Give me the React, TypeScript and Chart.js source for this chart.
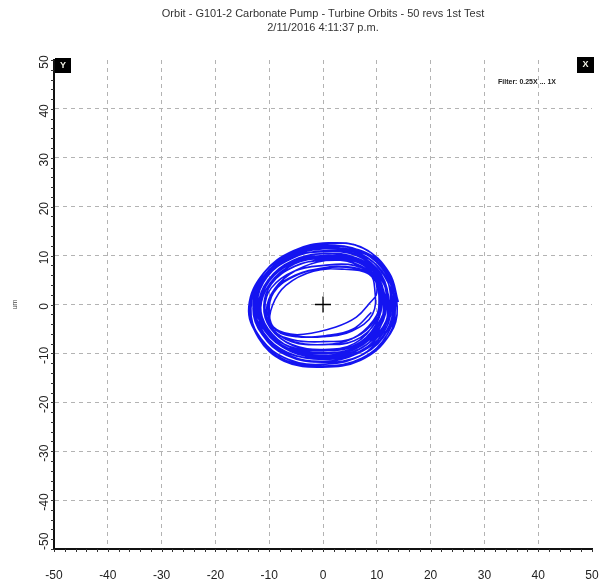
import React, { useEffect, useRef } from "react";
import { Chart, registerables } from "chart.js";

Chart.register(...registerables);

const titleLines = [
  "Orbit - G101-2 Carbonate Pump - Turbine Orbits - 50 revs 1st Test",
  "2/11/2016 4:11:37 p.m.",
];
const filterLabel = "Filter: 0.25X ... 1X";
const yAxisTitle = "um";
const xTicks = [-50, -40, -30, -20, -10, 0, 10, 20, 30, 40, 50];
const yTicks = [-50, -40, -30, -20, -10, 0, 10, 20, 30, 40, 50];

// orbit revolutions (x, y pairs in um)
const rev01 = [[14,0.5],[12.3,6.5],[7.5,11.5],[1,12.6],[-5.5,11],[-11,6.5],[-13.8,-0.5],[-12,-6.5],[-7,-11],[0,-12.6],[7.5,-11],[12.5,-6]];
const rev02 = [[13.5,1],[11.8,7],[7,11.8],[0.5,12.3],[-6,10.5],[-11.3,6],[-13.5,-1],[-11.5,-7],[-6.5,-11.2],[0.5,-12.2],[7.5,-10.2],[12.2,-5]];
const rev03 = [[13,0],[11.3,6],[6.8,10.5],[0.5,11.6],[-5.8,10],[-10.8,5.6],[-13,-0.8],[-11.2,-6.3],[-6.5,-10.3],[0,-11.6],[6.5,-10],[11.4,-5.5]];
const rev04 = [[12.6,1.2],[11,6.8],[6.5,10.5],[0,11.4],[-6,9.6],[-10.6,5.4],[-12.4,0],[-10.8,-5.4],[-6.2,-9.4],[0.3,-10.5],[6.6,-9.2],[11.2,-4.5]];
const rev05 = [[12,0.5],[10.5,5.8],[6.2,9.5],[0.4,10.4],[-5.6,9],[-10.2,5],[-12,-0.3],[-10.5,-5.5],[-6,-9.3],[0,-10.4],[6.2,-9],[10.6,-4.6]];
const rev06 = [[11.6,-0.5],[10.2,4.8],[6,8.4],[0,9.4],[-5.6,8.2],[-9.8,4.4],[-11.6,-0.8],[-10.2,-5.8],[-6,-9.6],[0,-10.8],[6,-9.6],[10.4,-5.2]];
const rev07 = [[11.2,0.6],[9.8,5.2],[5.8,8.4],[0.2,9.2],[-5.2,7.8],[-9.6,4.2],[-11,-0.6],[-9.6,-5],[-5.6,-8.4],[0,-9.4],[5.8,-8.4],[9.8,-4.2]];
const rev08 = [[10.6,1.5],[9.6,6],[6,8.8],[0.5,9],[-5,7],[-9,3.2],[-10.5,-1.2],[-9.2,-5.2],[-5.4,-7.6],[0,-8.2],[5.4,-7],[9.4,-3.2]];
const rev09 = [[13.8,-0.5],[12,5.8],[7.2,10.8],[0.8,12],[-5.8,10.6],[-11.2,6.2],[-13.6,0],[-12,-6.8],[-7.2,-11.6],[-0.2,-12.8],[7,-11.4],[12.2,-6.4]];
const rev10 = [[12.8,2],[11.4,7.6],[6.6,11.2],[0,11.8],[-6.4,10],[-11,5.2],[-12.8,-0.6],[-11,-6],[-6.4,-10],[0.4,-11],[7,-9.6],[11.6,-4]];
const rev11 = [[11.8,1],[10.4,6.4],[6.2,10],[0,10.8],[-5.8,9.6],[-10.4,5.6],[-12.2,0.4],[-10.8,-5],[-6.4,-9],[0,-10],[6.4,-8.8],[10.6,-4]];
const rev12 = [[12.4,-0.8],[11,4.8],[6.6,9],[0.6,10],[-5.4,8.8],[-10,4.8],[-12,-1.2],[-10.6,-6.6],[-6.2,-10.6],[0.2,-11.8],[6.8,-10.6],[11,-5.8]];
const rev13 = [[13.2,0.8],[11.6,6.8],[7,11],[0.6,12],[-6,10.2],[-11,5.8],[-13,-0.2],[-11.4,-6],[-6.8,-10.4],[0,-11.8],[7,-10.4],[11.8,-5.4]];
const rev14 = [[9.6,3.4],[8.6,6.2],[4,7.2],[-1.8,6.8],[-6.9,3.9],[-9.4,-0.2],[-9.7,-4],[-7.2,-5.8],[-3.6,-6.1],[2.4,-4.6],[6.2,-2.6],[8.6,0.2]];
const rev15 = [[12.2,0],[10.8,6.2],[6.4,10.2],[0.2,11],[-5.8,9.4],[-10.8,5.2],[-12.6,-0.6],[-11,-5.8],[-6.6,-9.8],[0.2,-11.2],[6.8,-9.8],[11.2,-5]];
const rev16 = [[11,1.8],[9.8,6.8],[6,9.6],[0.4,10],[-5.2,8.4],[-9.4,4.6],[-11,-0.2],[-9.8,-4.8],[-5.8,-8.2],[0,-9.2],[5.8,-8],[9.8,-3.4]];
const rev17 = [[10.4,1.8],[9.4,5.4],[5.6,7.4],[0,7.4],[-5.2,6],[-9,3],[-10.2,-1],[-9.2,-4.6],[-5.2,-6.4],[0,-6.6],[5.4,-5.4],[9.2,-2]];
const rev18 = [[11,1.2],[9.8,5.4],[6,8.4],[0.2,9],[-5.4,7.8],[-9.6,4.2],[-11,-0.4],[-9.8,-4.6],[-5.8,-7.6],[0,-8.2],[5.8,-7.4],[9.8,-3.6]];
const rev19 = [[10,2.4],[9.2,5.8],[5.4,7.6],[-0.4,7.4],[-5.6,5.6],[-9.2,2.4],[-10,-1.8],[-8.8,-5.2],[-4.8,-6.6],[0.4,-6.4],[5.6,-5],[9,-1.6]];
const rev20 = [[11.6,0.4],[10.2,5.2],[6.2,8.8],[0.2,9.6],[-5.8,8.4],[-10.2,4.6],[-11.8,-0.4],[-10.4,-5.2],[-6.2,-8.6],[0,-9.4],[6.2,-8.4],[10.4,-4.2]];
const rev21 = [[12.8,1.6],[11.4,7.2],[6.8,10.8],[0.4,11.4],[-6,9.8],[-10.8,5.2],[-12.8,-0.4],[-11.2,-5.8],[-6.8,-9.8],[0,-11],[6.8,-9.6],[11.4,-4.6]];
const rev22 = [[11.4,1.4],[10,6],[6,9.2],[0.2,9.8],[-5.6,8.6],[-10,4.8],[-11.6,-0.2],[-10.2,-5],[-6,-8.8],[0,-9.8],[6,-8.8],[10.2,-4]];
const rev23 = [[13.4,-0.2],[11.8,5.6],[7,10.2],[0.6,11.4],[-6,10],[-11.2,5.6],[-13.4,-0.8],[-11.8,-6.8],[-7,-11.4],[0,-12.6],[7.2,-11],[12,-6]];
const rev24 = [[10.8,1],[9.8,5.6],[5.8,8],[0.2,8],[-5.4,6.8],[-9.6,3.4],[-10.8,-0.8],[-9.6,-5],[-5.6,-7.2],[0,-7.6],[5.8,-6.8],[9.6,-3.2]];

const revolutions = [
  rev01, rev09, rev23, rev02, rev13, rev03, rev21, rev10, rev04, rev15, rev12, rev05,
  rev11, rev06, rev22, rev20, rev07, rev16, rev18, rev08, rev24, rev17, rev14, rev19,
];

const FONT = '"Liberation Sans", Arial, sans-serif';

const decorPlugin = {
  id: "decor",
  afterDatasetsDraw(chart: any) {
    const { ctx, scales } = chart;
    const cx = scales.x.getPixelForValue(0);
    const cy = scales.y.getPixelForValue(0);
    ctx.save();
    ctx.strokeStyle = "#000";
    ctx.lineWidth = 1.3;
    ctx.beginPath();
    ctx.moveTo(cx - 8, cy);
    ctx.lineTo(cx + 8, cy);
    ctx.moveTo(cx, cy - 8);
    ctx.lineTo(cx, cy + 8);
    ctx.stroke();
    ctx.restore();
  },
  afterDraw(chart: any) {
    const { ctx, chartArea, scales } = chart;
    const xs = scales.x;
    const ys = scales.y;
    ctx.save();
    // title
    ctx.fillStyle = "#333";
    ctx.font = `11px ${FONT}`;
    ctx.textAlign = "center";
    ctx.textBaseline = "middle";
    const mid = (chartArea.left + chartArea.right) / 2;
    ctx.fillText(titleLines[0], mid, 14);
    ctx.fillText(titleLines[1], mid, 28);

    // minor ticks
    ctx.strokeStyle = "#333";
    ctx.lineWidth = 1;
    ctx.beginPath();
    for (let v = -50; v <= 50; v += 2) {
      const px = Math.round(xs.getPixelForValue(v)) + 0.5;
      ctx.moveTo(px, chartArea.bottom);
      ctx.lineTo(px, chartArea.bottom + 3);
      const py = Math.round(ys.getPixelForValue(v)) + 0.5;
      ctx.moveTo(chartArea.left, py);
      ctx.lineTo(chartArea.left - 3, py);
    }
    ctx.stroke();

    // y tick labels, rotated
    ctx.fillStyle = "#222";
    ctx.font = `12px ${FONT}`;
    for (const v of yTicks) {
      const label = String(v);
      const w = ctx.measureText(label).width;
      let py = ys.getPixelForValue(v) + 2;
      py = Math.max(py, chartArea.top - 8 + w / 2);
      py = Math.min(py, chartArea.bottom + 1 - w / 2);
      ctx.save();
      ctx.translate(45, py);
      ctx.rotate(-Math.PI / 2);
      ctx.textAlign = "center";
      ctx.textBaseline = "middle";
      ctx.fillText(label, 0, 0);
      ctx.restore();
    }

    // y axis unit
    ctx.save();
    ctx.translate(15, ys.getPixelForValue(0));
    ctx.rotate(-Math.PI / 2);
    ctx.font = `7px ${FONT}`;
    ctx.fillStyle = "#444";
    ctx.textAlign = "center";
    ctx.textBaseline = "middle";
    ctx.fillText(yAxisTitle, 0, 0);
    ctx.restore();

    // Y / X boxes
    ctx.fillStyle = "#000";
    ctx.fillRect(chartArea.left + 1, chartArea.top - 2, 16, 15);
    ctx.fillRect(chartArea.right - 15, chartArea.top - 3, 17, 16);
    ctx.fillStyle = "#f4f4e8";
    ctx.font = `bold 9px ${FONT}`;
    ctx.textAlign = "center";
    ctx.textBaseline = "middle";
    ctx.fillText("Y", chartArea.left + 9, chartArea.top + 6);
    ctx.fillText("X", chartArea.right - 6.5, chartArea.top + 5);

    // filter text
    ctx.fillStyle = "#222";
    ctx.font = `bold 7px ${FONT}`;
    ctx.textAlign = "left";
    ctx.fillText(filterLabel, 498, 82);
    ctx.restore();
  },
};

export default function App() {
  const ref = useRef<HTMLCanvasElement | null>(null);
  useEffect(() => {
    document.body.style.margin = "0";
    const canvas = ref.current;
    if (!canvas) return;
    const points: { x: number; y: number }[] = [];
    for (const rev of revolutions) {
      for (const p of rev) points.push({ x: p[0], y: p[1] });
    }

    const gridColor = (c: any) =>
      c.tick && (c.tick.value === 50 || c.tick.value === -50) ? "rgba(0,0,0,0)" : "#b3b3b3";

    const chart = new Chart(canvas, {
      type: "scatter",
      data: {
        datasets: [
          {
            data: points,
            showLine: true,
            borderColor: "rgb(20,20,240)",
            borderWidth: 1.6,
            pointRadius: 0,
            tension: 0.4,
            fill: false,
          },
        ],
      },
      plugins: [decorPlugin],
      options: {
        responsive: false,
        animation: false,
        devicePixelRatio: 1,
        layout: { padding: { top: 60, right: 19, left: 0, bottom: 0 } },
        plugins: { legend: { display: false }, tooltip: { enabled: false }, title: { display: false } },
        scales: {
          x: {
            type: "linear",
            min: -50,
            max: 50,
            afterBuildTicks: (s: any) => {
              s.ticks = xTicks.map((v) => ({ value: v }));
            },
            afterFit: (s: any) => {
              s.height = 35;
            },
            ticks: {
              color: "#222",
              font: { family: FONT, size: 12 },
              padding: 2,
              maxRotation: 0,
              autoSkip: false,
            },
            grid: {
              color: gridColor,
              lineWidth: 1,
              drawTicks: true,
              tickLength: 17,
              tickColor: "rgba(0,0,0,0)",
            },
            border: { display: true, color: "#111", width: 2, dash: [4, 4] },
          },
          y: {
            type: "linear",
            min: -50,
            max: 50,
            afterBuildTicks: (s: any) => {
              s.ticks = yTicks.map((v) => ({ value: v }));
            },
            afterFit: (s: any) => {
              s.width = 54;
            },
            ticks: { display: false },
            grid: { color: gridColor, lineWidth: 1, drawTicks: false },
            border: { display: true, color: "#111", width: 2, dash: [4, 4] },
          },
        },
      },
    });
    return () => chart.destroy();
  }, []);
  return (
    <div style={{ width: 611, height: 584 }}>
      <canvas ref={ref} width={611} height={584} style={{ display: "block" }} />
    </div>
  );
}
